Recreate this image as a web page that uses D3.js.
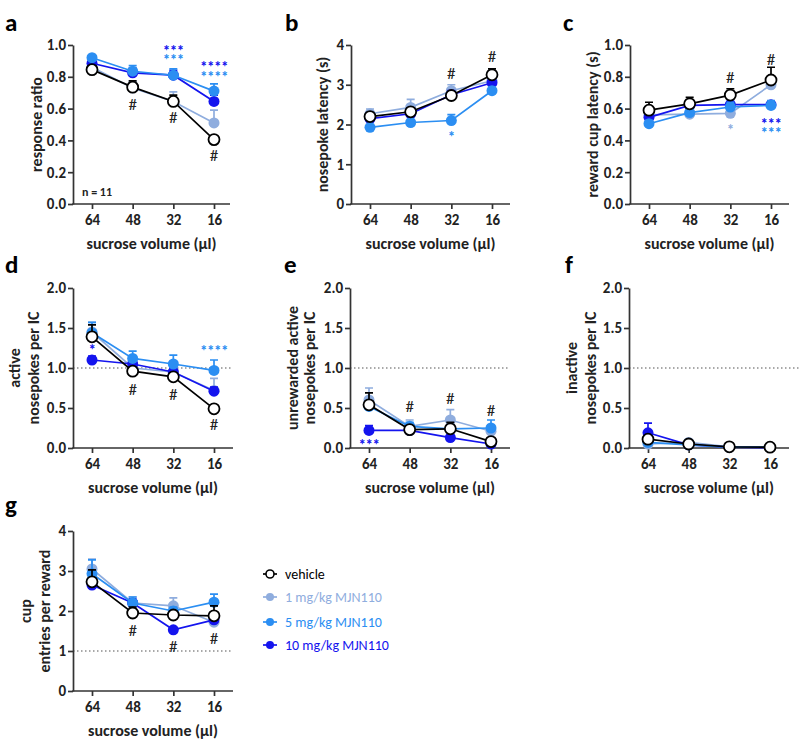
<!DOCTYPE html>
<head>
    <meta charset="utf-8">
    <title>MJN110 sucrose volume</title>
    <script src="https://d3js.org/d3.v7.min.js"></script>
    <style>
        body { margin: 0; background: #fff; }
        text { font-family: Carlito, Lato, "Open Sans", sans-serif; font-weight: bold; fill: #222; }
        .axis path, .axis line { stroke: #333; stroke-width: 1.7; }
    </style>
</head>
<body>
<svg width="800" height="742"></svg>
<script>
    // x categories (sucrose volume, µl)
    var volumes = ["64", "48", "32", "16"];
    var groups = ["vehicle", "1 mg/kg MJN110", "5 mg/kg MJN110", "10 mg/kg MJN110"];
    var colors = ["#000000", "#8fadde", "#2b8ef2", "#1414ee"];
    var drawOrder = [1, 3, 2, 0];

    // a: response ratio  (rows = groups, cols = volumes)
    var ratioMean = [[0.845, 0.735, 0.645, 0.405], [0.86, 0.73, 0.645, 0.51], [0.92, 0.835, 0.81, 0.71], [0.885, 0.825, 0.81, 0.645]];
    var ratioErr = [[0.015, 0.04, 0.04, 0.02], [0.02, 0.04, 0.06, 0.08], [0.01, 0.035, 0.04, 0.045], [0.02, 0.03, 0.03, 0.04]];
    // b: nosepoke latency (s)
    var npLatMean = [[2.2, 2.32, 2.73, 3.25], [2.27, 2.43, 2.85, 3.1], [1.93, 2.05, 2.1, 2.85], [2.15, 2.27, 2.75, 3.05]];
    var npLatErr = [[0.1, 0.1, 0.08, 0.15], [0.12, 0.2, 0.15, 0.12], [0.05, 0.05, 0.15, 0.1], [0.08, 0.08, 0.1, 0.1]];
    // c: reward cup latency (s)
    var cupLatMean = [[0.59, 0.63, 0.685, 0.78], [0.56, 0.565, 0.57, 0.75], [0.505, 0.575, 0.61, 0.62], [0.545, 0.62, 0.625, 0.625]];
    var cupLatErr = [[0.05, 0.04, 0.04, 0.08], [0.02, 0.02, 0.02, 0.02], [0.02, 0.02, 0.03, 0.03], [0.03, 0.03, 0.02, 0.02]];
    // d: active nosepokes per IC
    var activeMean = [[1.39, 0.96, 0.89, 0.49], [1.45, 1.0, 0.95, 0.72], [1.44, 1.12, 1.05, 0.97], [1.1, 1.05, 0.95, 0.71]];
    var activeErr = [[0.15, 0.02, 0.05, 0.01], [0.12, 0.04, 0.05, 0.15], [0.13, 0.09, 0.11, 0.13], [0.05, 0.05, 0.05, 0.05]];
    // e: unrewarded active nosepokes per IC
    var unrewMean = [[0.54, 0.23, 0.24, 0.08], [0.6, 0.27, 0.35, 0.21], [0.52, 0.27, 0.24, 0.25], [0.22, 0.22, 0.13, 0.05]];
    var unrewErr = [[0.15, 0.02, 0.08, 0.02], [0.15, 0.08, 0.13, 0.06], [0.05, 0.05, 0.05, 0.1], [0.06, 0.02, 0.03, 0.02]];
    // f: inactive nosepokes per IC
    var inactMean = [[0.11, 0.05, 0.015, 0.01], [0.05, 0.07, 0.015, 0.01], [0.07, 0.04, 0.01, 0.01], [0.19, 0.04, 0.01, 0.005]];
    var inactErr = [[0.03, 0.01, 0.005, 0.005], [0.02, 0.02, 0.005, 0.005], [0.02, 0.01, 0.005, 0.005], [0.12, 0.01, 0.005, 0.005]];
    // g: cup entries per reward
    var cupEntMean = [[2.73, 1.95, 1.9, 1.88], [3.05, 2.2, 2.13, 1.72], [2.93, 2.2, 2.0, 2.22], [2.65, 2.2, 1.53, 1.78]];
    var cupEntErr = [[0.3, 0.15, 0.1, 0.25], [0.25, 0.15, 0.2, 0.1], [0.35, 0.15, 0.1, 0.2], [0.05, 0.1, 0.05, 0.1]];

    // significance marks: [volume index, y value, text, group colour index]
    var ratioNotes = [[1, 0.63, "#", 0], [2, 0.55, "#", 0], [3, 0.31, "#", 0],
        [2, 0.98, "***", 3], [2, 0.92, "***", 2], [3, 0.875, "****", 3], [3, 0.815, "****", 2]];
    var npLatNotes = [[2, 3.3, "#", 0], [3, 3.72, "#", 0], [2, 1.76, "*", 2]];
    var cupLatNotes = [[2, 0.8, "#", 0], [3, 0.91, "#", 0], [2, 0.48, "*", 1], [3, 0.52, "***", 3], [3, 0.465, "***", 2]];
    var activeNotes = [[1, 0.74, "#", 0], [2, 0.68, "#", 0], [3, 0.3, "#", 0], [0, 1.26, "*", 3], [3, 1.24, "****", 2]];
    var unrewNotes = [[1, 0.53, "#", 0], [2, 0.63, "#", 0], [3, 0.47, "#", 0], [0, 0.065, "***", 3]];
    var inactNotes = [];
    var cupEntNotes = [[1, 1.52, "#", 0], [2, 1.12, "#", 0], [3, 1.32, "#", 0]];

    var svg = d3.select("svg");

    var panels = [
        {label: "a", ax: 73, top: 45, bottom: 204, yMax: 1, ticks: [0, 0.2, 0.4, 0.6, 0.8, 1.0], fmt: ".1f", mean: ratioMean, err: ratioErr, notes: ratioNotes, title: ["response ratio"], titleX: [36], labelX: 5, labelY: 31, end: 230, ref: null},
        {label: "b", ax: 351, top: 45, bottom: 204, yMax: 4, ticks: [0, 1, 2, 3, 4], fmt: "d", mean: npLatMean, err: npLatErr, notes: npLatNotes, title: ["nosepoke latency (s)"], titleX: [322], labelX: 285, labelY: 31, end: 510, ref: null},
        {label: "c", ax: 630, top: 45, bottom: 204, yMax: 1, ticks: [0, 0.2, 0.4, 0.6, 0.8, 1.0], fmt: ".1f", mean: cupLatMean, err: cupLatErr, notes: cupLatNotes, title: ["reward cup latency (s)"], titleX: [592], labelX: 563, labelY: 31, end: 789, ref: null},
        {label: "d", ax: 73, top: 288, bottom: 448, yMax: 2, ticks: [0, 0.5, 1.0, 1.5, 2.0], fmt: ".1f", mean: activeMean, err: activeErr, notes: activeNotes, title: ["active", "nosepokes per IC"], titleX: [14, 33], labelX: 5, labelY: 273, end: 233, ref: 1},
        {label: "e", ax: 350, top: 288, bottom: 448, yMax: 2, ticks: [0, 0.5, 1.0, 1.5, 2.0], fmt: ".1f", mean: unrewMean, err: unrewErr, notes: unrewNotes, title: ["unrewarded active", "nosepokes per IC"], titleX: [292, 309], labelX: 284, labelY: 273, end: 510, ref: 1},
        {label: "f", ax: 629, top: 288, bottom: 448, yMax: 2, ticks: [0, 0.5, 1.0, 1.5, 2.0], fmt: ".1f", mean: inactMean, err: inactErr, notes: inactNotes, title: ["inactive", "nosepokes per IC"], titleX: [571, 590], labelX: 565, labelY: 273, end: 789, refEnd: 800, ref: 1},
        {label: "g", ax: 73, top: 531, bottom: 691, yMax: 4, ticks: [0, 1, 2, 3, 4], fmt: "d", mean: cupEntMean, err: cupEntErr, notes: cupEntNotes, title: ["cup", "entries per reward"], titleX: [25, 44], labelX: 5, labelY: 513, end: 233, ref: 1}
    ];

    panels.forEach(function (p) {
        var x = d3.scalePoint().domain(volumes).range([p.ax + 19, p.ax + 141]);
        var y = d3.scaleLinear().domain([0, p.yMax]).range([p.bottom, p.top]);
        var g = svg.append("g");

        // panel letter
        g.append("text").attr("x", p.labelX).attr("y", p.labelY)
            .style("font-size", "25px").style("fill", "#000").text(p.label);

        // reference line
        if (p.ref != null) {
            g.append("line")
                .attr("x1", p.ax).attr("x2", p.refEnd || p.end)
                .attr("y1", y(p.ref)).attr("y2", y(p.ref))
                .style("stroke", "#555").style("stroke-width", 1.2)
                .style("stroke-dasharray", "1.5,2.5");
        }

        // y axis
        var yAxis = g.append("g").attr("class", "axis")
            .attr("transform", "translate(" + p.ax + ",0)")
            .call(d3.axisLeft(y).tickValues(p.ticks).tickFormat(d3.format(p.fmt)).tickSize(5).tickSizeOuter(0).tickPadding(2));
        yAxis.selectAll("text").style("font-size", "15px").style("font-family", null);

        // x axis
        var xAxis = g.append("g").attr("class", "axis")
            .attr("transform", "translate(0," + p.bottom + ")")
            .call(d3.axisBottom(x).tickSize(5).tickPadding(5));
        xAxis.select(".domain").remove();
        xAxis.append("line").attr("x1", p.ax - 0.8).attr("x2", p.end).attr("y1", 0).attr("y2", 0);
        xAxis.selectAll("text").style("font-size", "15px").style("font-family", null);

        // axis titles
        g.append("text")
            .attr("x", (p.ax + p.end) / 2).attr("y", p.bottom + 45)
            .attr("text-anchor", "middle").style("font-size", "16px")
            .text("sucrose volume (\u00b5l)");
        p.title.forEach(function (t, i) {
            var cy = (p.top + p.bottom) / 2;
            g.append("text")
                .attr("transform", "translate(" + p.titleX[i] + "," + cy + ") rotate(-90)")
                .attr("text-anchor", "middle").attr("dy", "0.35em")
                .style("font-size", "16px").text(t);
        });

        // series
        drawOrder.forEach(function (gi) {
            var c = colors[gi];
            var pts = volumes.map(function (v, i) {
                return {v: v, m: p.mean[gi][i], e: p.err[gi][i]};
            });
            var s = g.append("g");
            s.selectAll(".eb").data(pts).enter().append("path")
                .attr("d", function (d) {
                    var xx = x(d.v), y0 = y(d.m), y1 = y(d.m + d.e);
                    return "M" + xx + "," + y0 + "V" + y1 + "M" + (xx - 4) + "," + y1 + "H" + (xx + 4);
                })
                .style("stroke", c).style("stroke-width", 1.7).style("fill", "none");
            s.append("path").datum(pts)
                .attr("d", d3.line().x(function (d) { return x(d.v); }).y(function (d) { return y(d.m); }))
                .style("stroke", c).style("stroke-width", 1.7).style("fill", "none");
            s.selectAll("circle").data(pts).enter().append("circle")
                .attr("cx", function (d) { return x(d.v); })
                .attr("cy", function (d) { return y(d.m); })
                .attr("r", 5.5)
                .style("fill", gi === 0 ? "#fff" : c)
                .style("stroke", c).style("stroke-width", gi === 0 ? 1.8 : 0);
        });

        // "#" marks
        p.notes.filter(function (n) { return n[2] === "#"; }).forEach(function (n) {
            g.append("text")
                .attr("x", x(volumes[n[0]])).attr("y", y(n[1]))
                .attr("text-anchor", "middle").attr("dy", "0.35em")
                .style("font-size", "17px").style("font-weight", "normal")
                .text(n[2]);
        });
        // asterisks, stacked rows at one volume share one text
        var stars = d3.groups(p.notes.filter(function (n) { return n[2] !== "#"; }), function (n) { return n[0]; });
        stars.forEach(function (st) {
            var t = g.append("text").attr("text-anchor", "middle")
                .style("font-size", "15px").style("letter-spacing", "-0.5px");
            st[1].forEach(function (n) {
                t.append("tspan")
                    .attr("x", x(volumes[n[0]])).attr("y", y(n[1]))
                    .attr("dy", "0.5em")
                    .style("fill", colors[n[3]])
                    .text(n[2]);
            });
        });

        if (p.label === "a") {
            g.append("text").attr("x", p.ax + 9).attr("y", p.bottom - 8)
                .style("font-size", "12px").text("n = 11");
        }
    });

    // legend
    var legend = svg.append("g").attr("transform", "translate(263,574)");
    groups.forEach(function (name, i) {
        var row = legend.append("g").attr("transform", "translate(0," + [0, 23, 48, 71][i] + ")");
        row.append("line").attr("x1", 0).attr("x2", 14)
            .style("stroke", colors[i]).style("stroke-width", 1.7);
        row.append("circle").attr("cx", 7).attr("r", 4)
            .style("fill", i === 0 ? "#fff" : colors[i])
            .style("stroke", colors[i]).style("stroke-width", i === 0 ? 1.6 : 0);
        row.append("text").attr("x", 22).attr("dy", "0.35em")
            .style("font-size", "14px").style("font-weight", "normal")
            .style("fill", i === 0 ? "#000" : colors[i]).text(name);
    });
</script>
</body>
